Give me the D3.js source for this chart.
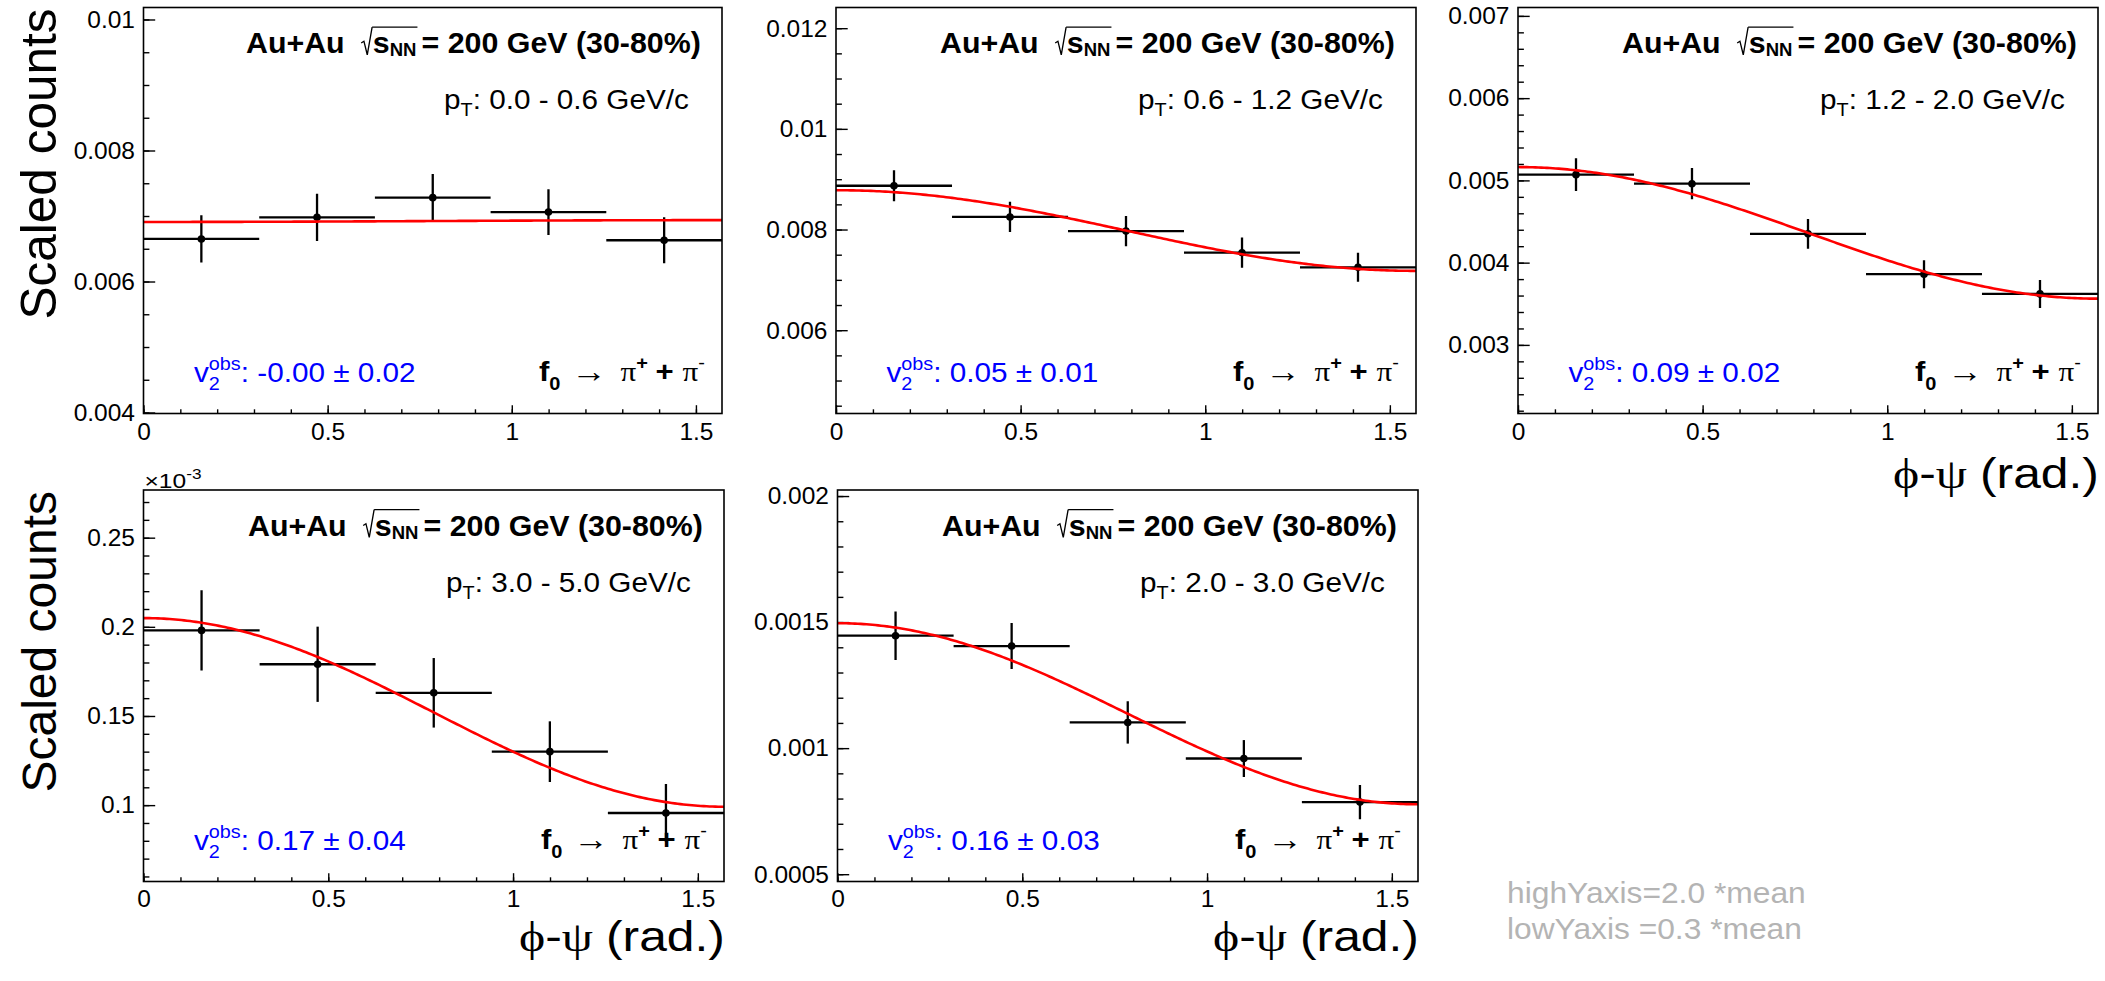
<!DOCTYPE html>
<html><head><meta charset="utf-8">
<script src="https://cdn.jsdelivr.net/npm/d3@7"></script>
<style>body{margin:0;background:#fff;} svg{display:block;}</style>
</head><body>
<svg id="c" width="2105" height="981"></svg>
<script>
// ---------------- data ----------------
const binLow    = [0, 0.3142, 0.6283, 0.9425, 1.2566];
const binHigh   = [0.3142, 0.6283, 0.9425, 1.2566, 1.5708];
const binCenter = [0.1571, 0.4712, 0.7854, 1.0996, 1.4137];

const ptLabels = ["0.0 - 0.6", "0.6 - 1.2", "1.2 - 2.0", "3.0 - 5.0", "2.0 - 3.0"];
const v2Labels = ["-0.00 \u00b1 0.02", "0.05 \u00b1 0.01", "0.09 \u00b1 0.02", "0.17 \u00b1 0.04", "0.16 \u00b1 0.03"];

const counts_pt00_06 = [0.00665, 0.00698, 0.00728, 0.00706, 0.00663];
const errors_pt00_06 = [0.00036, 0.00036, 0.00036, 0.00035, 0.00035];
const counts_pt06_12 = [0.00887, 0.00825, 0.00797, 0.00754, 0.00725];
const errors_pt06_12 = [0.00031, 0.00030, 0.00030, 0.00030, 0.00029];
const counts_pt12_20 = [0.00507, 0.00496, 0.00435, 0.00386, 0.00362];
const errors_pt12_20 = [0.00020, 0.00019, 0.00018, 0.00017, 0.00017];
const counts_pt30_50 = [0.000198, 0.000179, 0.000163, 0.000130, 0.0000956];
const errors_pt30_50 = [0.0000225, 0.0000211, 0.0000195, 0.0000170, 0.0000162];
const counts_pt20_30 = [0.001446, 0.001405, 0.001102, 0.000959, 0.000786];
const errors_pt20_30 = [0.000096, 0.000091, 0.000084, 0.000073, 0.000068];

// fit parameters: N * (1 + 2 v2 cos(2(phi-psi)))
const fitNorm = [0.006923, 0.00798, 0.004362, 0.000152, 0.0011365];
const fitV2   = [-0.001, 0.0502, 0.0917, 0.174, 0.158];

const yDomains = [[0.003985, 0.010183], [0.004345, 0.012411], [0.002166, 0.007102],
                  [0.00005717, 0.00027674], [0.000471, 0.002024]];
const yTicksMajor = [[0.004, 0.006, 0.008, 0.01], [0.006, 0.008, 0.01, 0.012],
                     [0.003, 0.004, 0.005, 0.006, 0.007], [0.0001, 0.00015, 0.0002, 0.00025],
                     [0.0005, 0.001, 0.0015, 0.002]];
const yTickLabels = [["0.004", "0.006", "0.008", "0.01"], ["0.006", "0.008", "0.01", "0.012"],
                     ["0.003", "0.004", "0.005", "0.006", "0.007"], ["0.1", "0.15", "0.2", "0.25"],
                     ["0.0005", "0.001", "0.0015", "0.002"]];
const yMinorStep = [0.0005, 0.0005, 0.0002, 0.00001, 0.0001];
const xTicksMajor = [0, 0.5, 1, 1.5];
const xTickLabels = ["0", "0.5", "1", "1.5"];

const countsAll = [counts_pt00_06, counts_pt06_12, counts_pt12_20, counts_pt30_50, counts_pt20_30];
const errorsAll = [errors_pt00_06, errors_pt06_12, errors_pt12_20, errors_pt30_50, errors_pt20_30];

// ---------------- layout ----------------
const panels = [
  {L: 143.5, R: 722,  T: 7.5, B: 413.5, ytitle: true,  xtitle: false, expo: false},
  {L: 836,   R: 1416, T: 7.5, B: 413.5, ytitle: false, xtitle: false, expo: false},
  {L: 1518,  R: 2098, T: 7.5, B: 413.5, ytitle: false, xtitle: true,  expo: false},
  {L: 143.5, R: 724,  T: 490, B: 881.5, ytitle: true,  xtitle: true,  expo: true},
  {L: 837.5, R: 1418, T: 490, B: 881.5, ytitle: false, xtitle: true,  expo: false}
];
const SANS = "'Liberation Sans', Arial, Helvetica, sans-serif";
const SERIF = "'Liberation Serif', 'DejaVu Serif', 'Times New Roman', serif";
const svg = d3.select('#c');
svg.append('rect').attr('width', 2105).attr('height', 981).attr('fill', '#fff');

// rich text helper: sequential pieces, optionally scaled horizontally
function rich(parent, pieces, opts) {
  const g = parent.append('g');
  let cx = 0, lastX = 0, sq = null;
  pieces.forEach(p => {
    if (p.gap !== undefined) { cx += p.gap; return; }
    if (p.sqrtStart) {
      const s = p.fs;
      g.append('path')
        .attr('d', `M${cx},${-0.34*s}L${cx+0.09*s},${-0.40*s}L${cx+0.2*s},${0.06*s}L${cx+0.36*s},${-0.88*s}`)
        .attr('fill', 'none').attr('stroke', '#000').attr('stroke-width', 1.3);
      sq = {x: cx + 0.36*s, y: -0.88*s};
      cx += 0.38*s; return;
    }
    if (p.sqrtEnd) {
      g.append('line').attr('x1', sq.x).attr('x2', cx + 1).attr('y1', sq.y).attr('y2', sq.y)
        .attr('stroke', '#000').attr('stroke-width', 1.3);
      return;
    }
    const x0 = p.stack ? lastX : cx;
    const t = g.append('text').attr('x', x0).attr('y', p.dy || 0)
      .attr('font-family', p.fam || SANS).attr('font-size', p.fs)
      .attr('font-weight', p.b ? 'bold' : 'normal')
      .attr('fill', p.fill || opts.fill || '#000')
      .style('white-space', 'pre')
      .text(p.t);
    const w = t.node().getComputedTextLength();
    if (p.stack) { cx = Math.max(cx, x0 + w); }
    else { lastX = x0; cx = x0 + w; }
  });
  const total = cx;
  const sx = opts.width ? opts.width / total : (opts.sx || 1);
  const x = opts.anchor === 'end' ? opts.x - total * sx : opts.x;
  g.attr('transform', `translate(${x},${opts.y}) scale(${sx},1)`);
  return g;
}

panels.forEach((P, i) => {
  const x = d3.scaleLinear().domain([0, Math.PI / 2]).range([P.L, P.R]);
  const y = d3.scaleLinear().domain(yDomains[i]).range([P.B, P.T]);
  const cid = 'clip' + i;
  svg.append('clipPath').attr('id', cid).append('rect')
    .attr('x', P.L).attr('y', P.T).attr('width', P.R - P.L).attr('height', P.B - P.T);

  // axes (ticks inside frame)
  const lo = yDomains[i][0], hi = yDomains[i][1], st = yMinorStep[i];
  const yMinor = d3.range(Math.ceil(lo / st - 1e-6), Math.floor(hi / st + 1e-6) + 1).map(k => k * st);
  const yaMin = svg.append('g').attr('transform', `translate(${P.L},0)`)
    .call(d3.axisLeft(y).tickValues(yMinor).tickSizeInner(-5.9).tickSizeOuter(0).tickFormat(''));
  yaMin.select('.domain').remove();
  yaMin.selectAll('line').attr('stroke', '#000').attr('stroke-width', 1.4);
  const ya = svg.append('g').attr('transform', `translate(${P.L},0)`)
    .call(d3.axisLeft(y).tickValues(yTicksMajor[i]).tickSizeInner(-11.7).tickSizeOuter(0)
      .tickPadding(8.5).tickFormat((d, k) => yTickLabels[i][k]));
  ya.select('.domain').remove();
  ya.selectAll('line').attr('stroke', '#000').attr('stroke-width', 1.4);
  ya.selectAll('text').attr('font-family', SANS).attr('font-size', 24.5).attr('fill', '#000');

  const xMinor = d3.range(0, 16).map(k => k / 10);
  const xaMin = svg.append('g').attr('transform', `translate(0,${P.B})`)
    .call(d3.axisBottom(x).tickValues(xMinor).tickSizeInner(-4.2).tickSizeOuter(0).tickFormat(''));
  xaMin.select('.domain').remove();
  xaMin.selectAll('line').attr('stroke', '#000').attr('stroke-width', 1.4);
  const xa = svg.append('g').attr('transform', `translate(0,${P.B})`)
    .call(d3.axisBottom(x).tickValues(xTicksMajor).tickSizeInner(-8.3).tickSizeOuter(0)
      .tickPadding(i >= 3 ? 8.5 : 9.5).tickFormat((d, k) => xTickLabels[k]));
  xa.select('.domain').remove();
  xa.selectAll('line').attr('stroke', '#000').attr('stroke-width', 1.4);
  xa.selectAll('text').attr('font-family', SANS).attr('font-size', 24.5).attr('fill', '#000');

  // data points with error bars
  const gp = svg.append('g').attr('clip-path', `url(#${cid})`);
  const vals = countsAll[i], errs = errorsAll[i];
  gp.selectAll('line.h').data(vals).join('line').attr('class', 'h')
    .attr('x1', (d, k) => x(binLow[k])).attr('x2', (d, k) => x(binHigh[k]))
    .attr('y1', d => y(d)).attr('y2', d => y(d))
    .attr('stroke', '#000').attr('stroke-width', 2.3);
  gp.selectAll('line.v').data(vals).join('line').attr('class', 'v')
    .attr('x1', (d, k) => x(binCenter[k])).attr('x2', (d, k) => x(binCenter[k]))
    .attr('y1', (d, k) => y(d - errs[k])).attr('y2', (d, k) => y(d + errs[k]))
    .attr('stroke', '#000').attr('stroke-width', 2.3);
  gp.selectAll('circle').data(vals).join('circle')
    .attr('cx', (d, k) => x(binCenter[k])).attr('cy', d => y(d)).attr('r', 3.8).attr('fill', '#000');

  // fit function
  const phis = d3.range(0, 201).map(k => k / 200 * Math.PI / 2);
  gp.append('path').datum(phis)
    .attr('d', d3.line().x(d => x(d)).y(d => y(fitNorm[i] * (1 + 2 * fitV2[i] * Math.cos(2 * d)))))
    .attr('fill', 'none').attr('stroke', '#ff0000').attr('stroke-width', 2.6);

  // frame
  svg.append('rect').attr('x', P.L).attr('y', P.T).attr('width', P.R - P.L).attr('height', P.B - P.T)
    .attr('fill', 'none').attr('stroke', '#000').attr('stroke-width', 1.6);

  // title
  rich(svg, [
    {t: 'Au+Au', fs: 29.5, b: true}, {gap: 16},
    {sqrtStart: true, fs: 29.5},
    {t: 's', fs: 29.5, b: true},
    {t: 'NN', fs: 18, b: true, dy: 3},
    {sqrtEnd: true}, {gap: 5},
    {t: '= 200 GeV (30-80%)', fs: 29.5, b: true}
  ], {x: P.R - 21, y: P.T + 45.5, anchor: 'end', width: 455});

  // pT label
  rich(svg, [
    {t: 'p', fs: 27}, {t: 'T', fs: 18, dy: 7},
    {t: ': ' + ptLabels[i] + ' GeV/c', fs: 27}
  ], {x: P.R - 278, y: P.T + 101.5, sx: 1.1});

  // v2 label
  rich(svg, [
    {t: 'v', fs: 27}, {t: '2', fs: 18, dy: 8.5}, {t: 'obs', fs: 18, dy: -12, stack: true},
    {t: ': ' + v2Labels[i], fs: 27}
  ], {x: P.L + 50.5, y: P.B - 32, sx: 1.1, fill: '#0000ff'});

  // decay label
  rich(svg, [
    {t: 'f', fs: 28, b: true}, {t: '0', fs: 18, b: true, dy: 9}, {gap: 10},
    {t: '\u2192', fs: 32, fam: SERIF, dy: 1}, {gap: 12},
    {t: '\u03c0', fs: 28, fam: SERIF}, {t: '+', fs: 18, b: true, dy: -12},
    {gap: 7}, {t: '+', fs: 28, b: true}, {gap: 8},
    {t: '\u03c0', fs: 28, fam: SERIF}, {t: '-', fs: 18, dy: -12}
  ], {x: P.R - 183, y: P.B - 33, width: 166});

  if (P.ytitle) {
    svg.append('text')
      .attr('transform', `translate(55.5,${P.T + 1}) rotate(-90)`)
      .attr('text-anchor', 'end').attr('font-family', SANS)
      .attr('font-size', i === 0 ? 49.5 : 48)
      .attr('fill', '#000').text('Scaled counts');
  }
  if (P.xtitle) {
    rich(svg, [
      {t: '\u03d5', fs: 42, fam: SERIF}, {t: '-', fs: 42}, {t: '\u03c8', fs: 42, fam: SERIF},
      {gap: 11}, {t: '(rad.)', fs: 42}
    ], {x: P.R + 1, y: P.B + (i === 2 ? 74 : 69), anchor: 'end', width: 206});
  }
  if (P.expo) {
    rich(svg, [
      {t: '\u00d710', fs: 20}, {t: '-3', fs: 14, dy: -9}
    ], {x: P.L + 1, y: P.T - 2, width: 57});
  }
});

// annotation
rich(svg, [{t: 'highYaxis=2.0 *mean', fs: 29}], {x: 1507, y: 902.7, width: 299, fill: '#b4b4b4'});
rich(svg, [{t: 'lowYaxis =0.3 *mean', fs: 29}], {x: 1507, y: 939.3, width: 295, fill: '#b4b4b4'});
</script>
</body></html>
